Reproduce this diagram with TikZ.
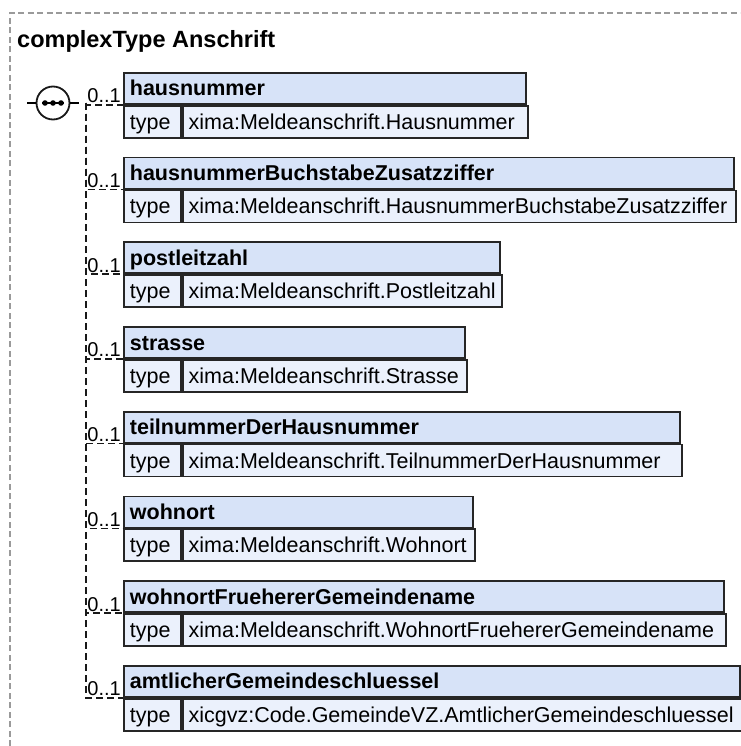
\documentclass[tikz,border=0pt]{standalone}
\usepackage{fontspec}
\setmainfont{Liberation Sans}
\usetikzlibrary{positioning}

\definecolor{namefill}{HTML}{D7E3F8}
\definecolor{typefill}{HTML}{EBF1FC}
\definecolor{framegray}{HTML}{9A9A9A}

\begin{document}
\begin{tikzpicture}
    [x=1pt, y=-1pt,
    every node/.style={inner sep=0pt, font=\fontsize{21.5}{24}\selectfont},
    frame/.style={draw=framegray, line width=1.3pt, dash pattern=on 6pt off 3.5pt},
    title/.style={font=\fontsize{23.5}{26}\selectfont\bfseries, anchor=base west},
    seq/.style={circle, draw=black!90, line width=1.8pt, minimum size=33pt, fill=white},
    namerow/.style={draw=black!85, line width=1.8pt, fill=namefill, anchor=north west,
      minimum height=31pt, inner xsep=6pt, align=left, text height=17pt, text depth=2pt},
    typerow/.style={draw=black!85, line width=1.8pt, fill=typefill, anchor=north west,
      minimum height=32pt, inner xsep=6pt, align=left, text height=17pt, text depth=2pt},
    card/.style={font=\fontsize{20}{22}\selectfont, anchor=base east},
    branch/.style={draw=black!90, line width=1.6pt, dash pattern=on 7pt off 4pt}]

  \useasboundingbox (0,0) rectangle (740,746);

  % outer frame, cut at the right and the bottom
  \draw[frame] (10,746) -- (10,13) -- (740,13);
  \node[title] (title) at (17,48) {complexType Anschrift};

  % sequence
  \node[seq] (seq) at (53,103) {};
  \draw[line width=1.8pt] (seq.west) -- ++(-9,0);
  \draw[line width=1.8pt] (seq.east) -- ++(9,0);
  \draw[line width=1.8pt] ([xshift=-11pt]seq.center) -- ([xshift=11pt]seq.center);
  \foreach \dx in {-8,0,8}
    \fill ([xshift=\dx pt]seq.center) circle (2.8pt);
  \coordinate (trunk) at (86,103);

  % elements
  \foreach \i/\elname/\eltype/\elright in {
      1/hausnummer/xima:Meldeanschrift.Hausnummer/525,
      2/hausnummerBuchstabeZusatzziffer/xima:Meldeanschrift.HausnummerBuchstabeZusatzziffer/733,
      3/postleitzahl/xima:Meldeanschrift.Postleitzahl/499,
      4/strasse/xima:Meldeanschrift.Strasse/464,
      5/teilnummerDerHausnummer/xima:Meldeanschrift.TeilnummerDerHausnummer/679,
      6/wohnort/xima:Meldeanschrift.Wohnort/472,
      7/wohnortFruehererGemeindename/xima:Meldeanschrift.WohnortFruehererGemeindename/723,
      8/amtlicherGemeindeschluessel/xicgvz:Code.GemeindeVZ.AmtlicherGemeindeschluessel/739} {
    \pgfmathsetmacro\rowtop{72+84.7*(\i-1)}
    \pgfmathsetmacro\namewd{\elright-123}
    \pgfmathsetmacro\nametw{\elright-135}
    \pgfmathsetmacro\typewd{\elright-180}
    \pgfmathsetmacro\typetw{\elright-192}
    \node[namerow, minimum width=\namewd pt, text width=\nametw pt]
      (name\i) at (123,\rowtop) {\bfseries\elname};
    \node[typerow, minimum width=57pt, text width=45pt]
      (tlabel\i) at (name\i.south west) {type};
    \node[typerow, minimum width=\typewd pt, text width=\typetw pt]
      (tvalue\i) at (tlabel\i.north east) {\eltype};
    \draw[branch] (trunk) |- (tlabel\i.north west);
    \node[card] (card\i) at ([xshift=-2pt, yshift=2pt]tlabel\i.north west) {0..1};
  }
\end{tikzpicture}
\end{document}
